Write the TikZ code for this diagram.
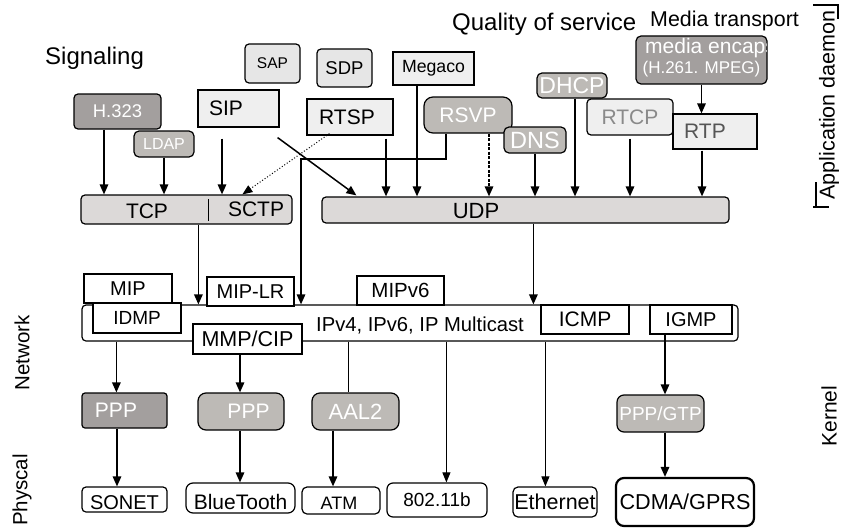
\documentclass[tikz,border=0pt]{standalone}
\usepackage{fontspec}
\setmainfont{Liberation Sans}
\usetikzlibrary{arrows.meta,calc}
\newcommand\fsz[1]{\fontsize{#1}{#1}\selectfont}
\definecolor{cdark}{HTML}{A39F9E}
\definecolor{cmed}{HTML}{BDBAB6}
\definecolor{clight}{HTML}{E6E6E6}
\definecolor{cvlight}{HTML}{EFEFEF}
\definecolor{ctrans}{HTML}{DCD9D8}
\definecolor{cgraytext}{HTML}{8A8A8A}
\definecolor{crtptext}{HTML}{555555}
\begin{document}
\begin{tikzpicture}[x=1pt,y=-1pt,
  bx/.style={draw=black,line width=1.2pt,inner sep=0pt},
  rbx/.style={bx,rounded corners=#1},
  sz/.style 2 args={minimum width=#1pt,minimum height=#2pt},
  arr/.style={line width=1.5pt,-{Triangle[length=10pt,width=8.5pt]}},
  tarr/.style={line width=1pt,-{Triangle[length=10pt,width=8pt]}},
  txt/.style={inner sep=0pt},
]
\useasboundingbox (0,0) rectangle (845,527);

% ---- headings
\node[txt,anchor=base west,font={\fsz{24}}] (sig) at (45,64) {Signaling};
\node[txt,anchor=base west,font={\fsz{24}}] (qos) at (452,31) {Quality of service};
\node[txt,anchor=base west,font={\fsz{21.4}}] (mt) at (650,27) {Media transport};

% ---- application layer boxes
\node[rbx=4pt,fill=clight,sz={55}{39},font={\fsz{15.5}}] (sap) at (272.5,63.5) {SAP};
\node[rbx=4pt,fill=clight,sz={55}{38},font={\fsz{18.5}}] (sdp) at (344.5,68) {SDP};
\node[bx,fill=cvlight,sz={81}{33},font={\fsz{17.7}}] (megaco) at (433.5,68.5) {Megaco};
\node[rbx=4pt,fill=cdark,text=white,sz={87}{35},font={\fsz{18.4}}] (h323) at (117.5,111.5) {H.323};
\node[rbx=5pt,fill=cmed,text=white,sz={60}{26},font={\fsz{16}}] (ldap) at (164,144) {LDAP};
\node[bx,fill=cvlight,sz={81}{37}] (sip) at (238.5,108.5) {};
\node[txt,font={\fsz{21}}] (siptxt) at (226,108.5) {SIP};
\node[bx,fill=cvlight,sz={86}{36}] (rtsp) at (350,117) {};
\node[txt,font={\fsz{21}}] (rtsptxt) at (347,117) {RTSP};
\node[rbx=9pt,fill=cmed,text=white,sz={88}{36},font={\fsz{21}}] (rsvp) at (468,115) {RSVP};
\node[rbx=5pt,fill=cmed,text=white,sz={62}{26},font={\fsz{23.5}}] (dns) at (535,140) {DNS};
\node[rbx=5pt,fill=cmed,text=white,sz={70}{25},font={\fsz{23}}] (dhcp) at (572,85.5) {DHCP};
\node[rbx=4pt,fill=cvlight,text=cgraytext,sz={86}{36},font={\fsz{21}}] (rtcp) at (630,117) {RTCP};
\node[bx,fill=cvlight,sz={84}{35}] (rtp) at (715,131.5) {};
\node[txt,text=crtptext,font={\fsz{21}}] (rtptxt) at (705,131.5) {RTP};
\node[rbx=5pt,fill=cdark,sz={131}{48}] (me) at (701.5,60) {};
\begin{scope}
  \clip (637,37) rectangle (766.3,83);
  \node[txt,anchor=base west,text=white,font={\fsz{21}}] (me1) at (645,54) {media encaps};
\end{scope}
\node[txt,text=white,font={\fsz{17}}] (me2) at (701.5,69.5) {(H.261. MPEG)};

% ---- transport
\node[rbx=4pt,fill=ctrans,sz={211}{29}] (tcp) at (186.5,209.5) {};
\draw[line width=1pt] ($(tcp.north west)+(128,5)$) -- ($(tcp.north west)+(128,27)$);
\node[txt,font={\fsz{21}}] (tcptxt) at (147,211) {TCP};
\node[txt,font={\fsz{21}}] (sctptxt) at (256,209) {SCTP};
\node[rbx=4pt,fill=ctrans,sz={407}{26}] (udp) at (525.5,210) {};
\node[txt,font={\fsz{22}}] (udptxt) at (476,211) {UDP};

% ---- network
\node[rbx=4pt,fill=white,sz={656}{36}] (ip) at (410,323) {};
\node[txt,font={\fsz{20.2}}] (iptxt) at (420,325) {IPv4, IPv6, IP Multicast};
\node[bx,fill=white,sz={88}{29},font={\fsz{20}}] (mip) at (128,288.5) {MIP};
\node[bx,fill=white,sz={88}{30},font={\fsz{19}}] (idmp) at (137,318) {IDMP};
\node[bx,fill=white,sz={87}{29},font={\fsz{20}}] (miplr) at (250.5,291.5) {MIP-LR};
\node[bx,fill=white,sz={87}{29},font={\fsz{20.5}}] (mipv6) at (400.5,290.5) {MIPv6};
\node[bx,fill=white,sz={109}{30},font={\fsz{21.5}}] (mmp) at (247.5,339) {MMP/CIP};
\node[bx,fill=white,sz={88}{29},font={\fsz{21}}] (icmp) at (585,319.5) {ICMP};
\node[bx,fill=white,sz={82}{29},font={\fsz{20}}] (igmp) at (691,319.5) {IGMP};

% ---- link layer
\node[rbx=3pt,fill=cdark,sz={85}{35}] (ppp1) at (124.5,410.5) {};
\node[txt,text=white,font={\fsz{21}}] (ppp1txt) at (116,410.5) {PPP};
\node[rbx=8pt,fill=cmed,sz={86}{37}] (ppp2) at (241,411.5) {};
\node[txt,text=white,font={\fsz{21}}] (ppp2txt) at (248.5,411) {PPP};
\node[rbx=8pt,fill=cmed,text=white,sz={87}{37},font={\fsz{22}}] (aal2) at (355.5,411.5) {AAL2};
\node[rbx=7pt,fill=cmed,text=white,sz={87}{37},font={\fsz{19}}] (pppgtp) at (660.5,413.5) {PPP/GTP};

% ---- physical
\node[rbx=4pt,fill=white,sz={85}{25}] (sonet) at (124.5,499.5) {};
\node[txt,font={\fsz{20}}] (sonettxt) at (124.5,502.5) {SONET};
\node[rbx=7pt,fill=white,sz={109}{30}] (bt) at (240.5,498) {};
\node[txt,font={\fsz{21}}] (bttxt) at (240.5,502) {BlueTooth};
\node[rbx=5pt,fill=white,sz={78}{27}] (atm) at (341,500.5) {};
\node[txt,font={\fsz{18}}] (atmtxt) at (339,503) {ATM};
\node[rbx=6pt,fill=white,sz={100}{34},font={\fsz{19}}] (wlan) at (437,500) {802.11b};
\node[rbx=5pt,fill=white,sz={84}{30},font={\fsz{21.5}}] (eth) at (555,502) {Ethernet};
\node[rbx=8pt,fill=white,draw=black,line width=2.2pt,sz={138}{48},font={\fsz{21.6}}] (cdma) at (685,502) {CDMA/GPRS};

% ---- side labels
\node[txt,rotate=90,font={\fsz{20.5}}] (net) at (22,353) {Network};
\node[txt,rotate=90,font={\fsz{20.5}}] (phys) at (22,490) {Physcal};
\node[txt,rotate=90,font={\fsz{21.5}}] (appd) at (829,105) {Application daemon};
\node[txt,rotate=90,font={\fsz{21}}] (kern) at (829,416) {Kernel};
\draw[line width=1.2pt] (813,5) -- (838,5) -- (838,19);
\draw[line width=1.2pt] (816,182) -- (816,207);
\draw[line width=1.2pt] (813,207) -- (829,207);

% ---- connector anchor points
\coordinate (h323o) at ($(h323.south)+(-13.5,0)$);
\coordinate (sipo) at ($(sip.south)+(-16.5,0)$);
\coordinate (sipd) at ($(sip.south east)+(-2,10)$);
\coordinate (udpd) at ($(udp.north west)+(35,-1)$);
\coordinate (rtspd) at ($(rtsp.south west)+(23,-2)$);
\coordinate (sctpd) at ($(tcp.north west)+(162,0)$);
\coordinate (rtspo) at ($(rtsp.south)+(36,0)$);
\coordinate (megacoo) at ($(megaco.south)+(-16.5,0)$);
\coordinate (rsvpd) at ($(rsvp.south)+(21,0)$);
\coordinate (rsvpl) at ($(rsvp.south)+(-22,0)$);
\coordinate (rsvpbend) at (301,159);
\coordinate (dhcpo) at ($(dhcp.south)+(3,0)$);
\coordinate (rtpo) at ($(rtp.south)+(-13,0)$);
\coordinate (tcpo) at ($(tcp.south west)+(118,0)$);
\coordinate (udpo) at ($(udp.south west)+(212,0)$);
\coordinate (ipa) at ($(ip.south west)+(35,0)$);
\coordinate (ipb) at ($(ip.south west)+(267,0)$);
\coordinate (ipc) at ($(ip.south west)+(365,0)$);
\coordinate (ipd) at ($(ip.south west)+(464,0)$);
\coordinate (mmpo) at ($(mmp.south)+(-7.5,0)$);
\coordinate (igmpo) at ($(igmp.south)+(-26,0)$);
\coordinate (aal2o) at ($(aal2.south)+(-22.5,0)$);
\coordinate (ppp1o) at ($(ppp1.south)+(-7.5,0)$);
\coordinate (ppp2o) at ($(ppp2.south)+(-1,0)$);
\coordinate (gtpo) at ($(pppgtp.south)+(4.5,0)$);

% ---- application -> transport
\draw[arr] (h323o) -- (h323o |- tcp.north);
\draw[arr] (ldap.south) -- (ldap.south |- tcp.north);
\draw[arr,shorten <=11pt] (sipo) -- (sipo |- tcp.north);
\draw[arr] (sipd) -- (udpd);
\draw[tarr,dotted] (rtspd) -- (sctpd);
\draw[arr,shorten <=3pt] (rtspo) -- (rtspo |- udp.north);
\draw[arr] (megacoo) -- (megacoo |- udp.north);
\draw[arr,dashed,dash pattern=on 3pt off 1.5pt] (rsvpd) -- (rsvpd |- udp.north);
\draw[arr] (dns.south) -- (dns.south |- udp.north);
\draw[arr] (dhcpo) -- (dhcpo |- udp.north);
\draw[arr,shorten <=3pt] (rtcp.south) -- (rtcp.south |- udp.north);
\draw[arr,shorten <=1pt] (rtpo) -- (rtpo |- udp.north);
\draw[arr] (me.south) -- (me.south |- rtp.north);
\draw[arr] (rsvpl) |- (rsvpbend) -- (rsvpbend |- ip.north);

% ---- transport -> network
\draw[arr] (tcpo) -- (tcpo |- ip.north);
\draw[arr] (udpo) -- (udpo |- ip.north);

% ---- network -> link / physical
\draw[arr] (ipa) -- (ipa |- ppp1.north);
\draw[arr] (mmpo) -- (mmpo |- ppp2.north);
\draw[line width=1pt] (ipb) -- (ipb |- aal2.north);
\draw[tarr] (ipc) -- (ipc |- wlan.north);
\draw[tarr] (ipd) -- (ipd |- eth.north);
\draw[arr] (igmpo) -- (igmpo |- pppgtp.north);

% ---- link -> physical
\draw[arr] (ppp1o) -- (ppp1o |- sonet.north);
\draw[arr] (ppp2o) -- (ppp2o |- bt.north);
\draw[arr] (aal2o) -- (aal2o |- atm.north);
\draw[arr] (gtpo) -- (gtpo |- cdma.north);
\end{tikzpicture}
\end{document}
